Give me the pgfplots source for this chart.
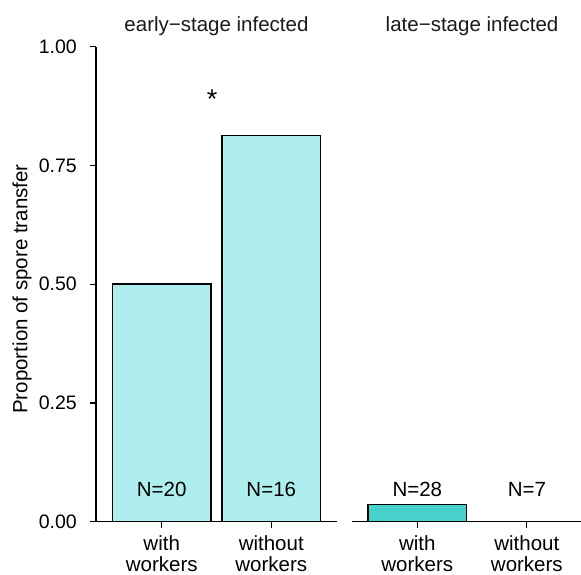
\documentclass[border=0pt]{standalone}
\usepackage{pgfplots}
\pgfplotsset{compat=1.18}
\usepackage{fontspec}
\setmainfont{Liberation Sans}
\definecolor{early}{HTML}{AFEEEE}
\definecolor{late}{HTML}{48D1CC}
\definecolor{strip}{HTML}{1A1A1A}
\newcommand{\lab}{\fontsize{20.5}{21}\selectfont}
\newcommand{\tck}{\fontsize{19.5}{21}\selectfont}
\begin{document}
\begin{tikzpicture}
\useasboundingbox (-96pt,-53.3pt) rectangle (485pt,521.7pt);
\pgfplotsset{
 facet/.style={
  scale only axis, height=475pt, ymin=0, ymax=1, xmin=0.4,
  xtick={1,2}, xticklabels={{with\\workers},{without\\workers}},
  xticklabel style={align=center, font=\lab, anchor=north, inner sep=0pt, yshift=-7.5pt},
  axis line style={black, line width=1.2pt, -},
  axis x line*=bottom,
  clip=false,
  tick align=outside,
  major tick length=6pt,
  every tick/.style={black, line width=1.2pt},
 }
}
\begin{axis}[facet, width=241pt, xmax=2.6, axis y line*=left,
  ytick={0,0.25,0.5,0.75,1}, yticklabels={0.00,0.25,0.50,0.75,1.00},
  yticklabel style={font=\tck, anchor=east, inner sep=0pt, xshift=-13pt},
  ylabel={Proportion of spore transfer},
  ylabel style={font=\lab, at={(axis description cs:-0.307,0.49)}, anchor=center, rotate=0}]
\addplot[ybar, bar width=0.9, fill=early, draw=black, line width=1.4pt] coordinates {(1,0.5) (2,0.8125)};
\node[font=\lab, anchor=base] at (axis cs:1,0.054) {N=20};
\node[font=\lab, anchor=base] at (axis cs:2,0.054) {N=16};
\node[font=\fontsize{27}{27}\selectfont, anchor=base] at (axis cs:1.46,0.869) {*};
\node[font=\lab, text=strip, anchor=base] at ([yshift=14.7pt]axis cs:1.5,1) {early−stage infected};
\end{axis}
\begin{axis}[facet, xshift=255.6pt, width=230pt, xmax=2.5, axis y line=none]
\addplot[ybar, bar width=0.9, fill=late, draw=black, line width=1.4pt] coordinates {(1,0.0357) (2,0)};
\node[font=\lab, anchor=base] at (axis cs:1,0.054) {N=28};
\node[font=\lab, anchor=base] at (axis cs:2,0.054) {N=7};
\node[font=\lab, text=strip, anchor=base] at ([yshift=14.7pt]axis cs:1.5,1) {late−stage infected};
\end{axis}
\end{tikzpicture}
\end{document}
